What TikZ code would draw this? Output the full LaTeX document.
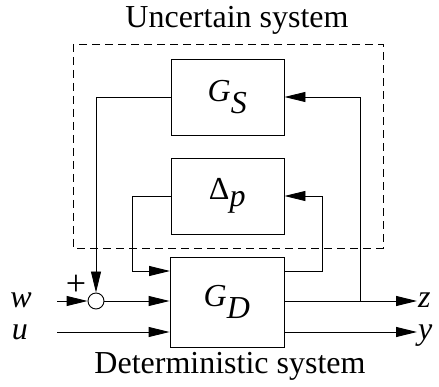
\documentclass[tikz,border=0pt]{standalone}
\usepackage{fontspec}
\setmainfont{Liberation Serif}
\usetikzlibrary{arrows.meta}
\begin{document}
\begin{tikzpicture}[x=1pt,y=-1pt,
  every node/.style={font=\fontsize{32}{36}\selectfont},
  blk/.style={draw,line width=0.9pt,minimum width=113pt,inner sep=0pt},
  ln/.style={line width=0.9pt},
  arr/.style={ln,-{Triangle[length=21pt,width=10pt]}},
  lbl/.style={inner sep=0pt,text height=15pt,text depth=4pt},
  sumc/.style={draw,circle,line width=0.9pt,minimum size=16pt,inner sep=0pt}]
\useasboundingbox (0,0) rectangle (439,387);
\draw[line width=0.9pt,dash pattern=on 8pt off 5pt] (73,44) rectangle (383,248);
\node[blk,minimum height=76pt] (GS) at (227.5,97) {\textit{G}$_{\textit{S}}$};
\node[blk,minimum height=76pt] (Dp) at (227.5,196) {Δ$_{\textit{p}}$};
\node[blk,minimum width=114pt,minimum height=90pt] (GD) at (227,302) {\textit{G}$_{\textit{D}}$};
\node[sumc] (S) at (96,301) {};
\node (uc) at (237,20) {Uncertain system};
\node (dt) at (230,366) {Deterministic system};
\node[lbl,anchor=base] (w) at (21,308) {\textit{w}};
\node[lbl,anchor=base] (u) at (20,339) {\textit{u}};
\node[lbl,anchor=base west] (z) at (418,308) {\textit{z}};
\node[lbl,anchor=base west] (y) at (418,339) {\textit{y}};
\node[font=\fontsize{36}{38}\selectfont,inner sep=0pt] (plus) at (76,285) {+};
\coordinate (win) at (57,301);
\coordinate (uin) at (57,332);
\coordinate (zout) at (417,301);
\coordinate (yout) at (417,332);
\coordinate (zb) at (360,301);
\draw[arr] (GS.west) -| (S.north);
\draw[arr] (win) -- (S.west);
\draw[arr] (S.east) -- (S.east -| GD.west);
\draw[arr] (uin) -- (uin -| GD.west);
\draw[arr] (zout -| GD.east) -- (zout);
\draw[arr] (yout -| GD.east) -- (yout);
\draw[arr] (zb) |- (GS.east);
\draw[arr] (Dp.west) -- ++(-38,0) |- (170,271);
\draw[arr] (284,271) -- (322,271) |- (Dp.east);
\end{tikzpicture}
\end{document}
